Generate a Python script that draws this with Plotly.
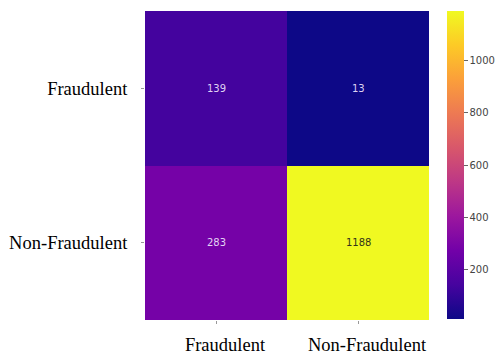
import plotly.graph_objects as go

categories = ["Fraudulent", "Non-Fraudulent"]
values = [[139, 13], [283, 1188]]
cbar_ticks = [200, 400, 600, 800, 1000]

W, H = 495, 356
x0, x1 = 145, 429
y0, y1 = 11, 320

zmin = min(min(r) for r in values)
zmax = max(max(r) for r in values)

fig = go.Figure()
fig.add_trace(go.Heatmap(
    z=values, x=categories, y=categories,
    colorscale="Plasma", zmin=zmin, zmax=zmax,
    showscale=True,
    colorbar=dict(
        x=447 / W, xanchor="left", xpad=0, ypad=0,
        y=1 - (y0 + 308 / 2) / H, yanchor="middle",
        lenmode="pixels", len=308, thickness=17,
        outlinewidth=0,
        tickvals=cbar_ticks, ticks="outside", ticklen=4, tickcolor="#666",
        tickfont=dict(family="DejaVu Sans", size=10, color="#444"),
    ),
    hoverinfo="skip",
))

for i, row in enumerate(values):
    for j, v in enumerate(row):
        frac = (v - zmin) / (zmax - zmin)
        fig.add_annotation(
            x=categories[j], y=categories[i], text=str(v), showarrow=False,
            font=dict(family="DejaVu Sans", size=10,
                      color="#333318" if frac > 0.6 else "rgba(235,225,250,0.95)"),
        )

fig.update_layout(
    width=W, height=H, margin=dict(l=0, r=0, t=0, b=0, autoexpand=False),
    paper_bgcolor="white", plot_bgcolor="white",
    xaxis=dict(domain=[x0 / W, x1 / W], showgrid=False, zeroline=False,
               automargin=False,
               ticks="outside", ticklen=3, tickcolor="#999",
               tickfont=dict(family="Liberation Serif", size=18.5, color="black"),
               ticklabelstandoff=5, ticklabelshift=9),
    yaxis=dict(domain=[1 - y1 / H, 1 - y0 / H], autorange="reversed",
               showgrid=False, zeroline=False, automargin=False,
               ticks="outside", ticklen=3, tickcolor="#999",
               tickfont=dict(family="Liberation Serif", size=18.5, color="black"),
               ticklabelstandoff=10),
)

fig.write_html("out.html")
